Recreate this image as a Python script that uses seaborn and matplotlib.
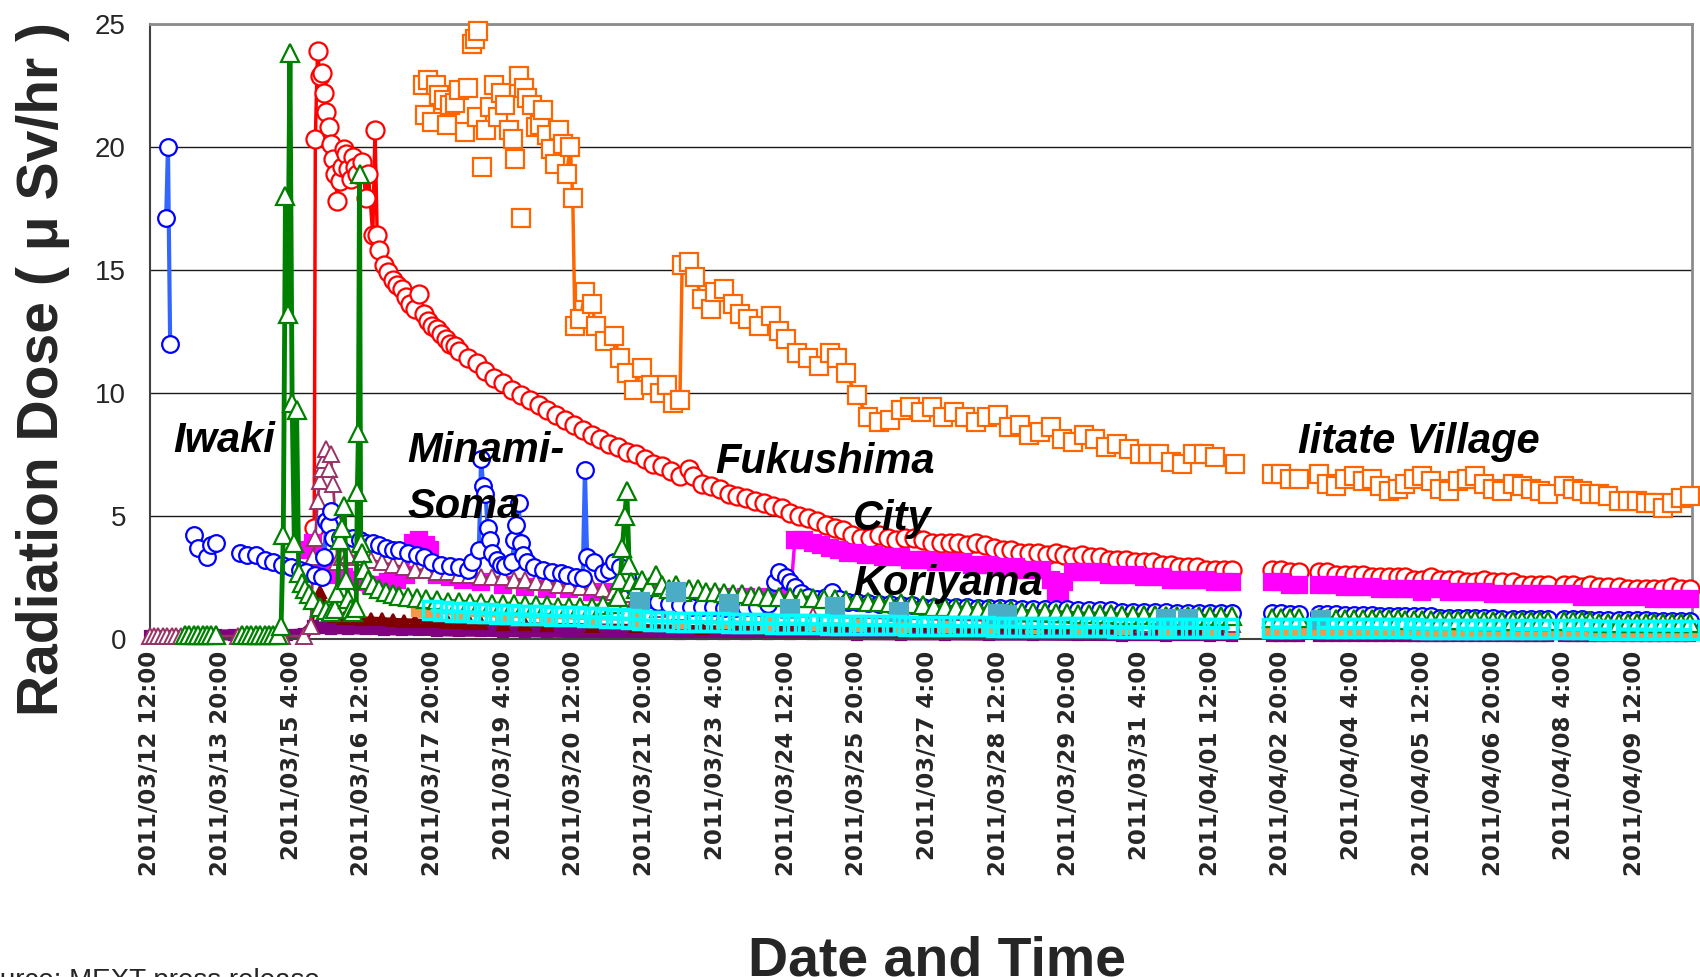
import numpy as np
import pandas as pd
import matplotlib
matplotlib.use("Agg")
import matplotlib.pyplot as plt
import seaborn as sns

# ---------------- data (hours after 2011/03/12 12:00, dose in uSv/hr) -------------
tick_hours = [0, 32, 64, 96, 128, 160, 192, 224, 256, 288, 320, 352, 384, 416,
              448, 480, 512, 544, 576, 608, 640, 672]
tick_labels = ["2011/03/12 12:00", "2011/03/13 20:00", "2011/03/15 4:00",
               "2011/03/16 12:00", "2011/03/17 20:00", "2011/03/19 4:00",
               "2011/03/20 12:00", "2011/03/21 20:00", "2011/03/23 4:00",
               "2011/03/24 12:00", "2011/03/25 20:00", "2011/03/27 4:00",
               "2011/03/28 12:00", "2011/03/29 20:00", "2011/03/31 4:00",
               "2011/04/01 12:00", "2011/04/02 20:00", "2011/04/04 4:00",
               "2011/04/05 12:00", "2011/04/06 20:00", "2011/04/08 4:00",
               "2011/04/09 12:00"]

# measurement clusters in April (hours)
apr_clusters = [
    [508, 512, 516, 520],
    [529, 533, 537, 541, 545, 549, 553, 557, 561, 565],
    [568, 572, 576, 580, 584, 588],
    [592, 596, 600, 604, 608, 612],
    [617, 621, 625, 629, 633],
    [640, 644, 648, 652, 656, 660],
    [665, 669, 673, 677, 681, 685, 689, 693, 697],
]

# Iitate: first days shown as scattered readings (no connecting line)
iitate_cloud = [(123.7, 22.5), (124.6, 21.3), (126, 22.7), (128, 21.0), (129.8, 22.5),
    (131, 22.1), (133.2, 21.9), (134.5, 20.9), (135.8, 21.7), (138, 21.8), (140.2, 22.3),
    (142.8, 20.6), (144, 22.4), (146, 24.2), (147.1, 24.4), (148, 21.2), (148.8, 24.7),
    (150.6, 19.2), (152.3, 20.7), (154, 21.6), (155.8, 22.5), (157.5, 21.2), (159.2, 22.2),
    (161, 21.7), (162.7, 20.7), (164.4, 20.3), (165.3, 19.5), (167, 22.9), (167.9, 17.1),
    (169.6, 22.4), (171, 22.0), (173.1, 21.7), (174.8, 20.8), (176.5, 20.9), (178, 21.5),
    (180, 20.5), (181.8, 19.9), (183.5, 19.3), (185.2, 20.7), (187, 20.1)]
iitate_march = [(188.7, 18.9), (190.4, 20.0), (191.5, 17.9), (192.5, 12.7), (195, 13.0),
    (197, 14.1), (200, 13.6), (202, 12.7), (206, 12.1), (210, 12.3), (213, 11.4), (216, 10.8),
    (219, 10.1), (223, 11.0), (227, 10.3), (231, 10.0), (234, 10.3), (237, 9.6), (240, 9.7),
    (241, 15.2), (244, 15.3), (247, 14.7), (250, 13.8), (254, 13.4), (256, 14.1), (260, 14.2),
    (264, 13.6), (267, 13.2), (271, 13.0), (276, 12.7), (281, 13.1), (285, 12.5), (288, 12.2),
    (293, 11.6), (298, 11.4), (303, 11.1), (308, 11.6), (311, 11.4), (315, 10.8), (320, 9.9),
    (325, 9.0), (330, 8.8), (335, 8.9), (340, 9.3), (344, 9.4), (349, 9.2), (354, 9.4),
    (359, 9.0), (364, 9.2), (369, 9.0), (374, 8.8), (379, 9.0), (384, 9.1), (389, 8.6),
    (394, 8.7), (398, 8.3), (403, 8.4), (408, 8.6), (413, 8.1), (418, 8.0), (423, 8.3),
    (428, 8.1), (433, 7.8), (438, 7.9), (443, 7.7), (448, 7.5), (452, 7.5), (457, 7.5),
    (462, 7.2), (467, 7.1), (472, 7.5), (477, 7.5), (482, 7.4), (491, 7.1)]
iitate_april = [[6.7, 6.7, 6.5, 6.5],
    [6.7, 6.3, 6.2, 6.5, 6.6, 6.4, 6.5, 6.2, 6.0, 6.1],
    [6.3, 6.5, 6.6, 6.4, 6.1, 6.0],
    [6.4, 6.5, 6.6, 6.3, 6.1, 6.0],
    [6.3, 6.2, 6.1, 6.0, 5.9],
    [6.2, 6.1, 6.0, 5.9, 5.9, 5.8],
    [5.6, 5.6, 5.6, 5.5, 5.5, 5.3, 5.5, 5.7, 5.8]]

fukushima_march = [(74.5, 4.5), (75, 20.3), (76, 23.9), (77, 22.9), (78, 23.0), (79, 22.2),
    (80, 21.4), (81, 20.8), (82, 20.1), (83, 19.5), (84, 18.9), (85, 17.8), (86, 18.6),
    (87, 19.2), (88, 19.9), (89, 19.7), (90, 19.1), (91, 18.7), (92, 19.6), (93, 19.2),
    (94, 18.9), (96, 19.4), (98, 17.9), (99, 18.9), (101, 16.4), (102, 20.7), (103, 16.4),
    (104, 15.8), (106, 15.2), (108, 14.9), (110, 14.6), (112, 14.4), (114, 14.2), (116, 13.9),
    (118, 13.6), (120, 13.4), (122, 14.0), (124, 13.2), (126, 12.9), (128, 12.7), (130, 12.6),
    (132, 12.4), (134, 12.2), (136, 12.0), (138, 11.9), (140, 11.7), (144, 11.4), (148, 11.2),
    (152, 10.9), (156, 10.6), (160, 10.4), (164, 10.1), (168, 9.9), (172, 9.7), (176, 9.5),
    (180, 9.3), (184, 9.1), (188, 8.9), (192, 8.7), (196, 8.5), (200, 8.3), (204, 8.1),
    (208, 7.9), (212, 7.8), (216, 7.6), (220, 7.5), (224, 7.3), (228, 7.1), (232, 7.0),
    (236, 6.8), (240, 6.6), (244, 6.9), (246, 6.6), (250, 6.3), (254, 6.2), (258, 6.1),
    (262, 5.9), (266, 5.8), (270, 5.7), (274, 5.6), (278, 5.5), (282, 5.4), (286, 5.3),
    (290, 5.1), (294, 5.0), (298, 4.9), (302, 4.8), (306, 4.6), (310, 4.5), (314, 4.4),
    (318, 4.2), (322, 4.1), (326, 4.1), (330, 4.2), (334, 4.1), (338, 4.0), (342, 4.1),
    (346, 4.1), (350, 4.0), (354, 3.9), (358, 3.9), (362, 3.9), (366, 3.9), (370, 3.8),
    (374, 3.9), (378, 3.8), (382, 3.7), (386, 3.6), (390, 3.6), (394, 3.5), (398, 3.5),
    (402, 3.5), (406, 3.4), (410, 3.5), (414, 3.4), (418, 3.3), (422, 3.4), (426, 3.3),
    (430, 3.3), (434, 3.2), (438, 3.2), (442, 3.2), (446, 3.1), (450, 3.1), (454, 3.1),
    (458, 3.0), (462, 3.0), (466, 2.9), (470, 2.9), (474, 2.9), (478, 2.8), (482, 2.8),
    (486, 2.8), (490, 2.8)]
fukushima_april = [[2.8, 2.8, 2.7, 2.7],
    [2.7, 2.7, 2.6, 2.6, 2.6, 2.6, 2.5, 2.5, 2.5, 2.5],
    [2.5, 2.4, 2.4, 2.5, 2.4, 2.4],
    [2.4, 2.3, 2.3, 2.4, 2.3, 2.3],
    [2.3, 2.2, 2.2, 2.2, 2.2],
    [2.2, 2.2, 2.1, 2.2, 2.1, 2.1],
    [2.1, 2.0, 2.0, 2.0, 2.0, 2.0, 2.1, 2.0, 2.0]]

koriyama_march = [(72, 3.6), (74, 3.9), (76, 3.4), (78, 3.0), (80, 2.9), (84, 2.6), (88, 2.5),
    (92, 2.4), (96, 2.3), (100, 2.2), (104, 2.2), (108, 2.3), (112, 2.4), (116, 2.6),
    (119, 3.9), (122, 4.0), (125, 3.8), (127, 3.6), (130, 2.6), (136, 2.5), (142, 2.4),
    (150, 2.3), (160, 2.2), (170, 2.1), (180, 2.0), (190, 2.0), (200, 1.9), (210, 1.9),
    (220, 1.8), (230, 1.8), (240, 1.8), (250, 1.7), (260, 1.7), (270, 1.7), (280, 1.7),
    (290, 1.7), (292, 4.0), (296, 4.0), (300, 3.9), (304, 3.8), (308, 3.7), (312, 3.6),
    (316, 3.5), (320, 3.5), (324, 3.4), (328, 3.4), (332, 3.3), (336, 3.3), (340, 3.3),
    (344, 3.2), (348, 3.2), (352, 3.2), (356, 3.1), (360, 3.1), (364, 3.1), (368, 3.1),
    (372, 3.0), (376, 3.0), (380, 3.0), (384, 2.9), (388, 2.9), (392, 2.9), (396, 2.8),
    (400, 2.8), (404, 2.8), (408, 2.4), (410, 1.9), (412, 1.9), (414, 2.3), (418, 2.7),
    (422, 2.7), (426, 2.7), (430, 2.7), (434, 2.6), (438, 2.6), (442, 2.6), (446, 2.6),
    (450, 2.5), (454, 2.5), (458, 2.5), (462, 2.4), (466, 2.4), (470, 2.4), (474, 2.4),
    (478, 2.4), (482, 2.3), (486, 2.3), (490, 2.3)]
koriyama_april = [[2.3, 2.3, 2.2, 2.2],
    [2.2, 2.2, 2.2, 2.1, 2.1, 2.1, 2.1, 2.0, 2.0, 2.0],
    [2.0, 2.0, 1.9, 2.0, 2.0, 1.9],
    [1.9, 1.9, 1.9, 1.9, 1.8, 1.8],
    [1.8, 1.8, 1.8, 1.8, 1.8],
    [1.8, 1.8, 1.7, 1.7, 1.7, 1.7],
    [1.7, 1.7, 1.7, 1.7, 1.6, 1.6, 1.6, 1.6, 1.6]]

minamisoma_march = [(7.5, 17.1), (8.3, 20.0), (9.3, 12.0), None,
    (20, 4.2), (22, 3.7), (26, 3.3), (28, 3.8), (30, 3.9), None,
    (41, 3.5), (44, 3.4), (48, 3.4), (52, 3.2), (56, 3.1), (60, 3.0), (64, 2.9), (68, 2.8),
    (71, 2.7), (75, 2.6), (78, 2.5), (79, 3.3), (80, 4.8), (81, 4.6), (82, 5.2), (83, 4.1),
    (86, 4.1), (89, 4.1), (92, 4.1), (95, 4.0), (98, 3.9), (101, 3.9), (104, 3.8), (107, 3.7),
    (110, 3.6), (113, 3.6), (117, 3.5), (121, 3.4), (124, 3.3), (128, 3.1), (132, 3.0),
    (136, 2.95), (140, 2.9), (144, 2.8), (146, 3.1), (149, 3.6), (150, 7.3), (151, 6.2),
    (152, 5.9), (153, 4.5), (154, 4.0), (155, 3.5), (157, 3.2), (159, 3.0), (161, 2.95),
    (164, 3.1), (165, 4.0), (166, 4.6), (167, 5.5), (168, 3.9), (169, 3.4), (171, 3.1),
    (174, 2.9), (178, 2.8), (182, 2.7), (186, 2.65), (189, 2.6), (193, 2.5), (196, 2.45),
    (197, 6.85), (198, 3.3), (201, 3.1), (205, 2.65), (208, 2.8), (210, 3.1), (213, 2.9),
    (216, 2.5), (219, 2.1), (222, 1.8), (226, 1.6), (230, 1.5), (235, 1.4), (240, 1.35),
    (245, 1.3), (250, 1.3), (255, 1.3), (260, 1.25), (265, 1.25), (270, 1.3), (275, 1.3),
    (280, 1.4), (283, 2.3), (285, 2.7), (288, 2.5), (290, 2.3), (292, 2.1), (295, 1.85),
    (298, 1.7), (302, 1.6), (306, 1.7), (309, 1.9), (312, 1.6), (316, 1.5), (320, 1.5),
    (325, 1.45), (330, 1.4), (335, 1.4), (340, 1.35), (345, 1.35), (350, 1.3), (355, 1.3),
    (360, 1.3), (365, 1.3), (370, 1.3), (375, 1.25), (380, 1.25), (385, 1.25), (390, 1.25),
    (395, 1.2), (400, 1.2), (405, 1.2), (410, 1.2), (415, 1.2), (420, 1.15), (425, 1.15),
    (430, 1.15), (435, 1.15), (440, 1.1), (445, 1.1), (450, 1.1), (455, 1.1), (460, 1.1),
    (465, 1.05), (470, 1.05), (475, 1.05), (480, 1.05), (485, 1.05), (490, 1.05)]
minamisoma_april = [[1.05, 1.05, 1.0, 1.0],
    [1.0, 1.0, 1.0, 0.95, 0.95, 0.95, 0.95, 0.9, 0.9, 0.9],
    [0.9, 0.9, 0.9, 0.9, 0.85, 0.85],
    [0.85, 0.85, 0.85, 0.85, 0.85, 0.8],
    [0.8, 0.8, 0.8, 0.8, 0.8],
    [0.8, 0.8, 0.8, 0.75, 0.75, 0.75],
    [0.75, 0.75, 0.75, 0.75, 0.7, 0.7, 0.7, 0.7, 0.7]]

iwaki_march = [(16, 0.15), (18, 0.15), (20, 0.15), (22, 0.15), (24, 0.15), (26, 0.15),
    (28, 0.15), (30, 0.15), None,
    (42, 0.15), (44, 0.15), (46, 0.15), (48, 0.15), (50, 0.15), (52, 0.15), (54, 0.15),
    (56, 0.15), (58, 0.15), (59.5, 0.5), (60.5, 4.2), (61.5, 18.0), (62.5, 13.2), (63.5, 23.8),
    (64.5, 9.6), (65.5, 3.9), (66.5, 9.3), (67.5, 2.65), (69, 2.25), (70.5, 2.0), (72, 1.8),
    (74, 1.55), (77, 1.3), (80, 1.15), (82, 1.1), (84, 1.2), (85, 1.85), (86, 4.0), (87, 4.5),
    (88, 5.4), (89, 2.4), (90, 1.6), (91, 1.2), (92, 1.1), (93.5, 1.25), (94, 5.97),
    (94.5, 8.35), (95, 18.9), (95.5, 3.9), (96, 3.5), (97, 2.8), (99, 2.4), (101, 2.2),
    (104, 2.0), (107, 1.9), (110, 1.8), (113, 1.75), (117, 1.7), (121, 1.65), (125, 1.6),
    (130, 1.55), (135, 1.5), (140, 1.5), (145, 1.45), (150, 1.45), (155, 1.4), (160, 1.4),
    (165, 1.4), (170, 1.35), (175, 1.35), (180, 1.35), (185, 1.3), (190, 1.3), (195, 1.3),
    (200, 1.3), (205, 1.35), (210, 1.4), (212, 1.7), (213, 2.4), (214, 3.7), (215, 5.0),
    (216, 6.0), (217, 3.0), (218, 2.3), (220, 2.0), (223, 2.4), (226, 2.1), (229, 2.6),
    (232, 2.2), (235, 2.0), (238, 2.2), (241, 1.9), (244, 2.0), (248, 2.0), (252, 1.9),
    (256, 1.9), (260, 1.85), (264, 1.8), (268, 1.8), (272, 1.75), (276, 1.75), (280, 1.7),
    (285, 1.7), (290, 1.7), (295, 1.65), (300, 1.65), (305, 1.6), (310, 1.6), (315, 1.55),
    (320, 1.55), (325, 1.5), (330, 1.5), (335, 1.45), (340, 1.45), (345, 1.4), (350, 1.35),
    (355, 1.3), (360, 1.3), (365, 1.25), (370, 1.25), (375, 1.2), (380, 1.2), (385, 1.15),
    (390, 1.15), (395, 1.1), (400, 1.1), (405, 1.1), (410, 1.05), (415, 1.05), (420, 1.0),
    (425, 1.0), (430, 1.0), (435, 1.0), (440, 0.95), (445, 0.95), (450, 0.95), (455, 0.95),
    (460, 0.9), (465, 0.9), (470, 0.9), (475, 0.9), (480, 0.9), (485, 0.9), (490, 0.9)]
iwaki_april = [[0.85, 0.85, 0.85, 0.85],
    [0.85, 0.8, 0.8, 0.8, 0.8, 0.8, 0.8, 0.8, 0.8, 0.8],
    [0.75, 0.75, 0.75, 0.75, 0.75, 0.75],
    [0.75, 0.75, 0.75, 0.7, 0.7, 0.7],
    [0.7, 0.7, 0.7, 0.7, 0.7],
    [0.7, 0.7, 0.7, 0.7, 0.65, 0.65],
    [0.65, 0.65, 0.65, 0.65, 0.65, 0.65, 0.65, 0.65, 0.65]]

mauve_march = [(0, 0.1), (2, 0.1), (4, 0.1), (6, 0.1), (8, 0.1), (10, 0.1), (12, 0.1),
    (14, 0.1), (16, 0.1), (20, 0.1), (30, 0.1), (40, 0.1), (50, 0.1), (60, 0.1), (70, 0.1),
    (73, 0.5), (74, 3.3), (75, 4.1), (76, 5.6), (77, 6.4), (78, 6.9), (79, 7.25), (80, 7.7),
    (81, 6.9), (82, 7.5), (83, 6.3), (84, 5.0), (85, 3.1), (87, 3.3), (90, 3.4), (95, 3.3),
    (100, 3.2), (105, 3.1), (110, 3.0), (115, 2.9), (120, 2.8), (125, 2.8), (130, 2.7),
    (135, 2.7), (140, 2.6), (145, 2.6), (150, 2.5), (155, 2.5), (160, 2.5), (165, 2.4),
    (170, 2.4), (175, 2.3), (180, 2.3), (185, 2.2), (190, 2.2), (195, 2.1), (200, 2.1),
    (205, 2.0), (210, 1.9), (215, 1.8), (220, 1.6), (225, 1.4), (230, 1.2), (240, 1.1),
    (260, 1.0), (300, 0.9), (350, 0.8), (400, 0.7), (450, 0.6), (490, 0.6)]

darkred_march = [(70, 0.1), (73, 0.6), (75, 1.5), (77, 1.9), (79, 1.4), (81, 1.0), (84, 0.9),
    (88, 0.85), (92, 0.85), (96, 0.8), (100, 0.8), (105, 0.78), (110, 0.75), (115, 0.73),
    (120, 0.72), (125, 0.7), (130, 0.7), (135, 0.68), (140, 0.66), (145, 0.64), (150, 0.62),
    (160, 0.6), (170, 0.58), (180, 0.55), (200, 0.52), (220, 0.5), (250, 0.45), (280, 0.42),
    (310, 0.4), (340, 0.37), (370, 0.35), (400, 0.33), (430, 0.3), (460, 0.3), (490, 0.28)]
darkred_april = [[0.28, 0.28, 0.28, 0.28],
    [0.27, 0.27, 0.27, 0.27, 0.27, 0.26, 0.26, 0.26, 0.26, 0.26],
    [0.26, 0.26, 0.25, 0.25, 0.25, 0.25],
    [0.25, 0.25, 0.25, 0.25, 0.24, 0.24],
    [0.24, 0.24, 0.24, 0.24, 0.24],
    [0.23, 0.23, 0.23, 0.23, 0.23, 0.23],
    [0.22, 0.22, 0.22, 0.22, 0.22, 0.22, 0.22, 0.22, 0.22]]

purple_march = [(0, 0.12), (8, 0.12), (16, 0.12), (24, 0.12), (30, 0.15), (38, 0.15),
    (46, 0.15), (54, 0.15), (62, 0.15), (70, 0.2), (74, 0.5), (78, 0.45), (82, 0.4),
    (90, 0.4), (98, 0.38), (106, 0.36), (114, 0.35), (122, 0.34), (130, 0.32), (140, 0.3),
    (150, 0.3), (160, 0.28), (170, 0.27), (180, 0.26), (190, 0.25), (200, 0.24), (210, 0.23),
    (220, 0.22), (230, 0.21), (240, 0.2), (250, 0.2), (260, 0.19), (270, 0.18), (280, 0.18),
    (290, 0.17), (300, 0.17), (320, 0.16), (340, 0.15), (360, 0.15), (380, 0.14), (400, 0.14),
    (420, 0.13), (440, 0.12), (460, 0.12), (480, 0.12), (490, 0.12)]
purple_april = [[0.12, 0.12, 0.12, 0.12],
    [0.12, 0.12, 0.12, 0.12, 0.12, 0.11, 0.11, 0.11, 0.11, 0.11],
    [0.11, 0.11, 0.11, 0.11, 0.11, 0.11],
    [0.11, 0.11, 0.1, 0.1, 0.1, 0.1],
    [0.1, 0.1, 0.1, 0.1, 0.1],
    [0.1, 0.1, 0.1, 0.1, 0.1, 0.1],
    [0.1, 0.1, 0.1, 0.1, 0.1, 0.1, 0.1, 0.1, 0.1]]

lightorange_march = [(122, 1.2), (125, 1.15), (128, 1.1), (140, 0.95), (160, 0.9), (180, 0.85),
    (200, 0.8), (220, 0.75), (240, 0.72), (260, 0.7), (280, 0.65), (300, 0.62), (320, 0.6),
    (340, 0.57), (360, 0.55), (380, 0.52), (400, 0.5), (420, 0.48), (440, 0.46), (460, 0.45),
    (480, 0.43), (490, 0.42)]
lightorange_april = [[0.4, 0.4, 0.4, 0.4],
    [0.4, 0.4, 0.4, 0.38, 0.38, 0.38, 0.38, 0.38, 0.37, 0.37],
    [0.37, 0.37, 0.36, 0.36, 0.36, 0.36],
    [0.35, 0.35, 0.35, 0.35, 0.35, 0.34],
    [0.34, 0.34, 0.34, 0.33, 0.33],
    [0.33, 0.33, 0.32, 0.32, 0.32, 0.32],
    [0.32, 0.31, 0.31, 0.31, 0.31, 0.3, 0.3, 0.3, 0.3]]

cyan_march = [(128, 1.15), (133, 1.12), (138, 1.1), (143, 1.08), (148, 1.06), (153, 1.04),
    (158, 1.02), (163, 1.0), (168, 0.98), (173, 0.97), (178, 0.95), (183, 0.93), (188, 0.92),
    (193, 0.9), (198, 0.88), (203, 0.86), (208, 0.84), (213, 0.82), (218, 0.8), (223, 0.75),
    (228, 0.72), (233, 0.7), (238, 0.68), (243, 0.68), (248, 0.67), (253, 0.66), (258, 0.66),
    (263, 0.65), (268, 0.64), (273, 0.63), (278, 0.62), (283, 0.61), (288, 0.6), (293, 0.6),
    (298, 0.59), (303, 0.58), (308, 0.57), (313, 0.57), (318, 0.56), (323, 0.55), (328, 0.55),
    (333, 0.54), (338, 0.54), (343, 0.53), (348, 0.52), (353, 0.52), (358, 0.51), (363, 0.51),
    (368, 0.5), (373, 0.5), (378, 0.5), (383, 0.49), (388, 0.49), (393, 0.48), (398, 0.48),
    (403, 0.48), (408, 0.47), (413, 0.47), (418, 0.47), (423, 0.46), (428, 0.46), (433, 0.46),
    (438, 0.45), (443, 0.45), (448, 0.45), (453, 0.45), (458, 0.44), (463, 0.44), (468, 0.44),
    (473, 0.44), (478, 0.43), (483, 0.43), (488, 0.43)]
cyan_april = [[0.45, 0.45, 0.44, 0.44],
    [0.44, 0.44, 0.44, 0.43, 0.43, 0.43, 0.43, 0.42, 0.42, 0.42],
    [0.42, 0.42, 0.41, 0.41, 0.41, 0.41],
    [0.41, 0.4, 0.4, 0.4, 0.4, 0.4],
    [0.39, 0.39, 0.39, 0.39, 0.39],
    [0.38, 0.38, 0.38, 0.38, 0.37, 0.37],
    [0.37, 0.37, 0.37, 0.36, 0.36, 0.36, 0.36, 0.35, 0.35]]

teal_points = [(222, 1.5), (238, 1.9), (262, 1.4), (290, 1.2), (310, 1.3), (339, 1.1),
    (384, 1.0), (388, 0.95), (460, 0.8), (470, 0.8), (530, 0.75)]

# ---------------- helpers -------------
def build(points, april=None):
    rows, seg = [], 0
    for p in points:
        if p is None:
            seg += 1
            continue
        rows.append((p[0], p[1], seg))
    if april is not None:
        for hrs, vals in zip(apr_clusters, april):
            assert len(hrs) == len(vals)
            seg += 1
            for h, v in zip(hrs, vals):
                rows.append((h, v, seg))
    return pd.DataFrame(rows, columns=["hour", "dose", "seg"])


sns.set_style("white")
plt.rcParams["font.family"] = ["Liberation Sans", "DejaVu Sans"]

fig = plt.figure(figsize=(17, 9.77), dpi=100)
W, H = 1700.0, 977.0
x0, x1, y0, y1 = 149.6, 1692.0, 638.6, 23.9
ax = fig.add_axes([x0 / W, 1 - y0 / H, (x1 - x0) / W, (y0 - y1) / H])


def draw(df, color, marker, ms, face, edge=None, mew=1.6, lw=2.5, z=2, ls="-"):
    sns.lineplot(data=df, x="hour", y="dose", units="seg", estimator=None, sort=False,
                 ax=ax, color=color, marker=marker, markersize=ms,
                 markerfacecolor=face, markeredgecolor=edge or color,
                 markeredgewidth=mew, linewidth=lw, linestyle=ls, legend=False,
                 zorder=z, clip_on=False)


draw(build(purple_march, purple_april), "#800080", "s", 7, "#800080", lw=8, z=2)
draw(build(darkred_march, darkred_april), "#800000", "^", 9, "#800000", lw=3.5, z=3)
draw(build(lightorange_march, lightorange_april), "#F79646", "s", 10, "#F79646", lw=2, z=4)
draw(build(fukushima_march, fukushima_april), "#FF0000", "o", 13, "white", lw=2.5, z=5)
draw(build(koriyama_march, koriyama_april), "#FF00FF", "s", 12, "#FF00FF", lw=2.5, z=6)
draw(build(mauve_march), "#993366", "^", 12, "white", mew=1.4, lw=2, z=7)
draw(build(minamisoma_march, minamisoma_april), "#3366FF", "o", 12, "white",
     edge="#0000FF", lw=3, z=8)
draw(build(iwaki_march, iwaki_april), "#008000", "^", 13, "white", lw=3.5, z=9)
draw(build(teal_points), "#4BACC6", "s", 13, "#4BACC6", lw=0, z=10, ls="none")
draw(build(cyan_march, cyan_april), "#00FFFF", "s", 13, "none", mew=2.5, lw=3, z=11)
draw(build(iitate_cloud), "#FF6600", "s", 12.5, "white", mew=1.6, lw=0, z=12, ls="none")
draw(build(iitate_march, iitate_april), "#FF6600", "s", 12.5, "white", mew=1.6, lw=2.5, z=12)

# ---------------- axes styling -------------
ax.set_xlim(0, 698)
ax.set_ylim(0, 25)
ax.set_yticks([0, 5, 10, 15, 20, 25])
ax.grid(axis="y", color="#1a1a1a", linewidth=1.0)
ax.grid(axis="x", visible=False)
ax.set_axisbelow(True)
for side in ["top", "right"]:
    ax.spines[side].set_color("#8c8c8c")
    ax.spines[side].set_linewidth(2)
for side in ["left", "bottom"]:
    ax.spines[side].set_color("#404040")
    ax.spines[side].set_linewidth(1.5)

ax.set_xticks(tick_hours)
ax.set_xticklabels(tick_labels, rotation=90, fontweight="bold", fontsize=16.5,
                   family="DejaVu Sans")
ax.tick_params(axis="x", length=0, pad=9)
ax.tick_params(axis="y", length=0, pad=17, labelsize=20)

ax.set_ylabel("Radiation Dose ( μ Sv/hr )", fontsize=41, fontweight="bold")
ax.yaxis.set_label_coords((43 - x0) / (x1 - x0), (y0 - 369) / (y0 - y1))
ax.yaxis.label.set_va("center")
ax.set_xlabel("Date and Time", fontsize=40, fontweight="bold")
ax.xaxis.set_label_coords((937 - x0) / (x1 - x0), (y0 - 975) / (y0 - y1))
ax.xaxis.label.set_va("baseline")

# ---------------- station labels -------------
labels = [("Iwaki", 173, 452), ("Minami-", 407, 462), ("Soma", 407, 518),
          ("Fukushima", 715, 473), ("City", 853, 530), ("Koriyama", 853, 595),
          ("Iitate Village", 1298, 453)]
for txt, px, py in labels:
    fig.text(px / W, 1 - py / H, txt, fontsize=30, fontweight="bold", fontstyle="italic",
             ha="left", va="baseline", color="black", zorder=20)

fig.text(-34 / W, 1 - 988 / H, "Source: MEXT press release", fontsize=20,
         ha="left", va="baseline")

fig.savefig("out.png", dpi=100)
